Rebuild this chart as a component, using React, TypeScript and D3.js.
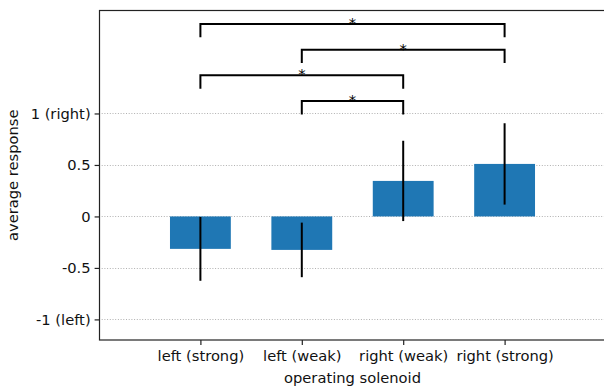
import React, { useEffect, useRef } from 'react';
import * as d3 from 'd3';

// data
const categories = ['left (strong)', 'left (weak)', 'right (weak)', 'right (strong)'];
const means = [-0.315, -0.325, 0.345, 0.51];
const errors = [0.31, 0.265, 0.39, 0.395];
const yTicks = [-1, -0.5, 0, 0.5, 1];
const yTickLabels = ['-1 (left)', '-0.5', '0', '0.5', '1 (right)'];
// significance brackets: [from, to, height]
const brackets: [number, number, number][] = [
  [0, 3, 1.87],
  [1, 3, 1.62],
  [0, 2, 1.37],
  [1, 2, 1.12],
];
const bracketDrop = 0.13;

const W = 604;
const H = 387;

export default function App() {
  const ref = useRef<SVGSVGElement>(null);

  useEffect(() => {
    const svg = d3.select(ref.current);
    svg.selectAll('*').remove();

    var left = 99, right = 607, top = 10.5, bottom = 340;
    var font = 'DejaVu Sans, sans-serif';
    var fs = 14.7;

    var x = d3.scaleLinear().domain([-1, 4]).range([left, left + 101.4 * 5]);
    var y = d3.scaleLinear().domain([-1.2, 2.0]).range([bottom, top]);
    var barW = x(0.6) - x(0);

    var g = svg.append('g');

    // grid lines
    g.selectAll('.grid')
      .data(yTicks)
      .enter()
      .append('line')
      .attr('x1', left)
      .attr('x2', right)
      .attr('y1', (d) => Math.round(y(d)) + 0.5)
      .attr('y2', (d) => Math.round(y(d)) + 0.5)
      .attr('stroke', '#b0b0b0')
      .attr('stroke-width', 1)
      .attr('stroke-dasharray', '1,1.7');

    // bars
    g.selectAll('.bar')
      .data(means)
      .enter()
      .append('rect')
      .attr('x', (d, i) => x(i) - barW / 2)
      .attr('y', (d) => y(Math.max(0, d)))
      .attr('width', barW)
      .attr('height', (d) => Math.abs(y(d) - y(0)))
      .attr('fill', '#1f77b4');

    // error bars
    g.selectAll('.err')
      .data(means)
      .enter()
      .append('line')
      .attr('x1', (d, i) => x(i))
      .attr('x2', (d, i) => x(i))
      .attr('y1', (d, i) => y(d + errors[i]))
      .attr('y2', (d, i) => y(d - errors[i]))
      .attr('stroke', 'black')
      .attr('stroke-width', 2);

    // brackets
    brackets.forEach(([a, b, h]) => {
      var path = d3.path();
      path.moveTo(x(a), y(h - bracketDrop));
      path.lineTo(x(a), y(h));
      path.lineTo(x(b), y(h));
      path.lineTo(x(b), y(h - bracketDrop));
      g.append('path')
        .attr('d', path.toString())
        .attr('fill', 'none')
        .attr('stroke', 'black')
        .attr('stroke-width', 2);
      g.append('text')
        .attr('x', (x(a) + x(b)) / 2)
        .attr('y', y(h) + 4)
        .attr('text-anchor', 'middle')
        .attr('font-family', font)
        .attr('font-size', fs)
        .attr('fill', 'black')
        .text('*');
    });

    // frame
    g.append('rect')
      .attr('x', left + 0.5)
      .attr('y', top)
      .attr('width', right - left)
      .attr('height', bottom - top)
      .attr('fill', 'none')
      .attr('stroke', '#222')
      .attr('stroke-width', 1.2);

    // y axis
    var yAxis = d3
      .axisLeft(y)
      .tickValues(yTicks)
      .tickSize(4.9)
      .tickPadding(4)
      .tickFormat((d, i) => yTickLabels[i]);
    var ya = g.append('g').attr('transform', 'translate(' + (left + 0.5) + ',0)').call(yAxis);
    ya.select('.domain').remove();
    ya.selectAll('text').attr('font-family', font).attr('font-size', fs).attr('fill', '#111');
    ya.selectAll('line').attr('stroke', '#222').attr('stroke-width', 1.2);

    // x axis
    var xAxis = d3
      .axisBottom(x)
      .tickValues(d3.range(categories.length))
      .tickSize(4.9)
      .tickPadding(6)
      .tickFormat((d, i) => categories[i]);
    var xa = g.append('g').attr('transform', 'translate(0,' + bottom + ')').call(xAxis);
    xa.select('.domain').remove();
    xa.selectAll('text').attr('font-family', font).attr('font-size', fs).attr('fill', '#111');
    xa.selectAll('line').attr('stroke', '#222').attr('stroke-width', 1.2);

    // axis labels
    g.append('text')
      .attr('x', x(1.5))
      .attr('y', 383)
      .attr('text-anchor', 'middle')
      .attr('font-family', font)
      .attr('font-size', fs)
      .attr('fill', '#111')
      .text('operating solenoid');
    g.append('text')
      .attr('transform', 'translate(18,' + (top + bottom) / 2 + ') rotate(-90)')
      .attr('text-anchor', 'middle')
      .attr('font-family', font)
      .attr('font-size', fs)
      .attr('fill', '#111')
      .text('average response');
  }, []);

  return (
    <svg
      ref={ref}
      width={W}
      height={H}
      style={{ position: 'absolute', left: 0, top: 0, background: 'white' }}
    />
  );
}
